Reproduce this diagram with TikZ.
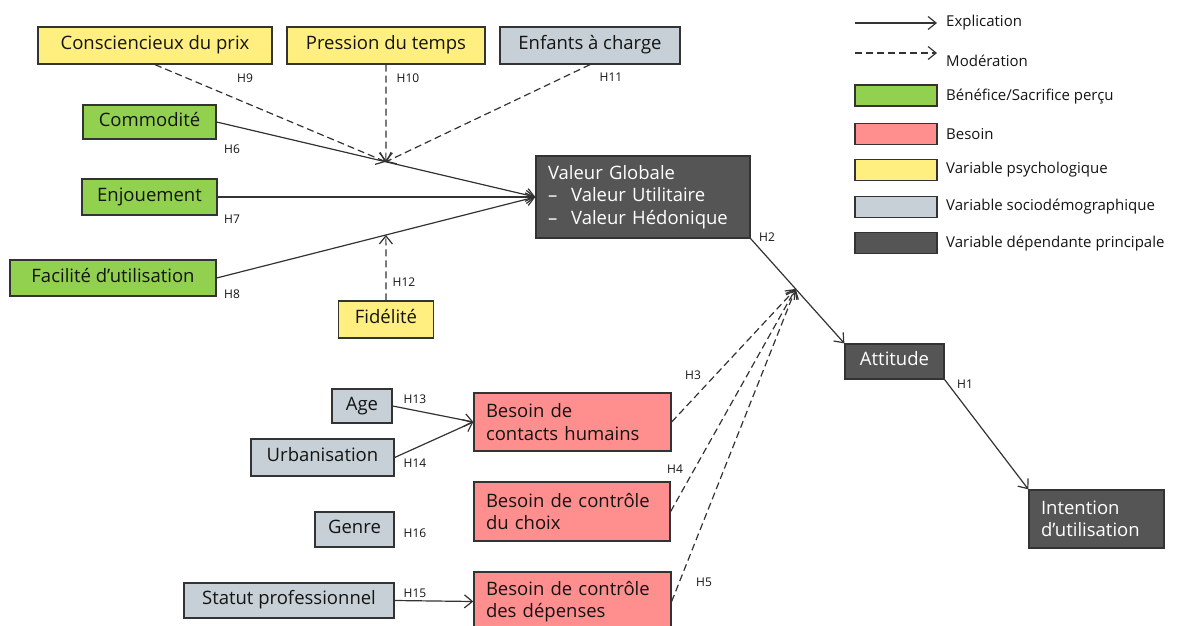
\documentclass[tikz,border=0pt]{standalone}
\usepackage{fontspec}
\setmainfont{Open Sans}
\usetikzlibrary{arrows.meta,calc}

\definecolor{edge}{RGB}{51,51,51}
\definecolor{ink}{RGB}{20,20,20}
\definecolor{cgreen}{RGB}{146,208,80}
\definecolor{cpink}{RGB}{255,143,143}
\definecolor{cyellow}{RGB}{255,239,128}
\definecolor{cgray}{RGB}{198,208,214}
\definecolor{cdark}{RGB}{85,85,85}

\newcommand{\boxfont}{\fontsize{18.5}{22.5}\selectfont}
\newcommand{\hypfont}{\fontsize{12}{14}\selectfont}
\newcommand{\legfont}{\fontsize{15}{17}\selectfont}

\begin{document}
\begin{tikzpicture}[x=1pt,y=-1pt,
  box/.style={draw=edge, line width=1.3pt, inner sep=0pt, text=ink, font=\boxfont},
  sz/.style 2 args={minimum width=#1pt, minimum height=#2pt},
  one/.style={text height=14pt, text depth=6pt},
  multi/.style={align=left, inner xsep=12pt, text width=#1pt},
  benef/.style={box, one, fill=cgreen},
  need/.style={box, fill=cpink},
  psy/.style={box, one, fill=cyellow},
  socio/.style={box, one, fill=cgray},
  dep/.style={box, fill=cdark, text=white},
  expl/.style={draw=edge, line width=1.2pt, -{Straight Barb[length=8pt,width=13pt,line width=1.2pt]}},
  moder/.style={expl, dash pattern=on 7pt off 4pt},
  hyp/.style={font=\hypfont, text=ink, inner sep=0pt},
  legtext/.style={font=\legfont, text=ink, anchor=west, inner sep=0pt},
  swatch/.style={draw=edge, line width=1.3pt, minimum width=82pt, minimum height=21pt, inner sep=0pt}
]
\useasboundingbox (0,0) rectangle (1187,626);

% --- moderators and antecedents of perceived value
\node[psy, sz={234}{37}]   (cons) at (155,45.5)  {Consciencieux du prix};
\node[psy, sz={198}{37}]   (pres) at (386,45.5)  {Pression du temps};
\node[socio, sz={180}{37}] (enf)  at (590,45.5)  {Enfants à charge};
\node[benef, sz={133}{34}] (comm) at (149.5,122) {Commodité};
\node[benef, sz={135}{36}] (enj)  at (149.5,197) {Enjouement};
\node[benef, sz={206}{36}] (fac)  at (113,278)   {Facilité d’utilisation};
\node[psy, sz={95}{37}]    (fid)  at (386,319.5) {Fidélité};

% --- dependent variables
\node[dep, sz={214}{82}, multi=190] (val) at (643,197)
  {Valeur Globale\\–\hspace{0.75em}Valeur Utilitaire\\–\hspace{0.75em}Valeur Hédonique};
\node[dep, one, sz={99}{35}] (att) at (894.5,361.5) {Attitude};
\node[dep, sz={135}{58}, multi=111] (int) at (1096.5,519) {Intention\\d’utilisation};

% --- sociodemographics and needs
\node[socio, sz={60}{34}]  (age)  at (362,406)   {Age};
\node[socio, sz={143}{37}] (urb)  at (322.5,457.5) {Urbanisation};
\node[socio, sz={79}{35}]  (gen)  at (354.5,529.5) {Genre};
\node[socio, sz={210}{35}] (stat) at (289,600.5) {Statut professionnel};
\node[need, sz={197}{58}, multi=173] (bc)  at (572.5,422)   {Besoin de\\contacts humains};
\node[need, sz={196}{59}, multi=172] (bch) at (572,511.5)   {Besoin de contrôle\\du choix};
\node[need, sz={197}{59}, multi=173] (bd)  at (572.5,601.5) {Besoin de contrôle\\des dépenses};

% --- points where moderating effects meet their paths
\coordinate (m1) at ($(comm.east)!0.531!(val.west)$);
\coordinate (m2) at ($(fac.east)!0.531!(val.west)$);
\coordinate (m3) at ($(val.south east)!0.48!(att.north west)$);

% --- explanatory paths
\draw[expl] (comm.east) -- (val.west);
\draw[expl] (enj.east) -- (val.west);
\draw[expl] (fac.east) -- (val.west);
\draw[expl] (val.south east) -- (att.north west);
\draw[expl] (att.south east) -- (int.north west);
\draw[expl] (age.east) -- (bc.west);
\draw[expl] (urb.east) -- (bc.west);
\draw[expl] (stat.east) -- (bd.west);

% --- moderating paths
\draw[moder] (cons.south) -- (m1);
\draw[moder] (pres.south) -- (m1);
\draw[moder] (enf.south) -- (m1);
\draw[moder] (fid.north) -- (m2);
\draw[moder] (bc.east) -- (m3);
\draw[moder] (bch.east) -- (m3);
\draw[moder] (bd.east) -- (m3);

% --- hypothesis labels
\node[hyp] (h1)  at (965,384) {H1};
\node[hyp] (h2)  at (767,237) {H2};
\node[hyp] (h3)  at (693,375) {H3};
\node[hyp] (h4)  at (675,469) {H4};
\node[hyp] (h5)  at (704,582) {H5};
\node[hyp] (h6)  at (232,149) {H6};
\node[hyp] (h7)  at (232,219) {H7};
\node[hyp] (h8)  at (232,294) {H8};
\node[hyp] (h9)  at (245,78)  {H9};
\node[hyp] (h10) at (408,78)  {H10};
\node[hyp] (h11) at (611,77)  {H11};
\node[hyp] (h12) at (404,282) {H12};
\node[hyp] (h13) at (415,399) {H13};
\node[hyp] (h14) at (415,463) {H14};
\node[hyp] (h15) at (415,593) {H15};
\node[hyp] (h16) at (415,533) {H16};

% --- legend
\coordinate (la1) at (855,23);
\coordinate (la2) at (937,23);
\coordinate (lb1) at (855,53);
\coordinate (lb2) at (937,53);
\draw[expl] (la1) -- (la2);
\draw[moder] (lb1) -- (lb2);
\node[legtext] (lexpl) at (946,23) {Explication};
\node[legtext] (lmod)  at (946,61) {Modération};
\node[swatch, fill=cgreen]  (sw1) at (896,95.5) {};
\node[swatch, fill=cpink]   (sw2) at (896,134)  {};
\node[swatch, fill=cyellow] (sw3) at (896,170)  {};
\node[swatch, fill=cgray]   (sw4) at (896,207)  {};
\node[swatch, fill=cdark]   (sw5) at (896,243)  {};
\node[legtext] (lt1) at (946,97)  {Bénéfice/Sacrifice perçu};
\node[legtext] (lt2) at (946,134) {Besoin};
\node[legtext] (lt3) at (946,170) {Variable psychologique};
\node[legtext] (lt4) at (946,207) {Variable sociodémographique};
\node[legtext] (lt5) at (946,244) {Variable dépendante principale};
\end{tikzpicture}
\end{document}
